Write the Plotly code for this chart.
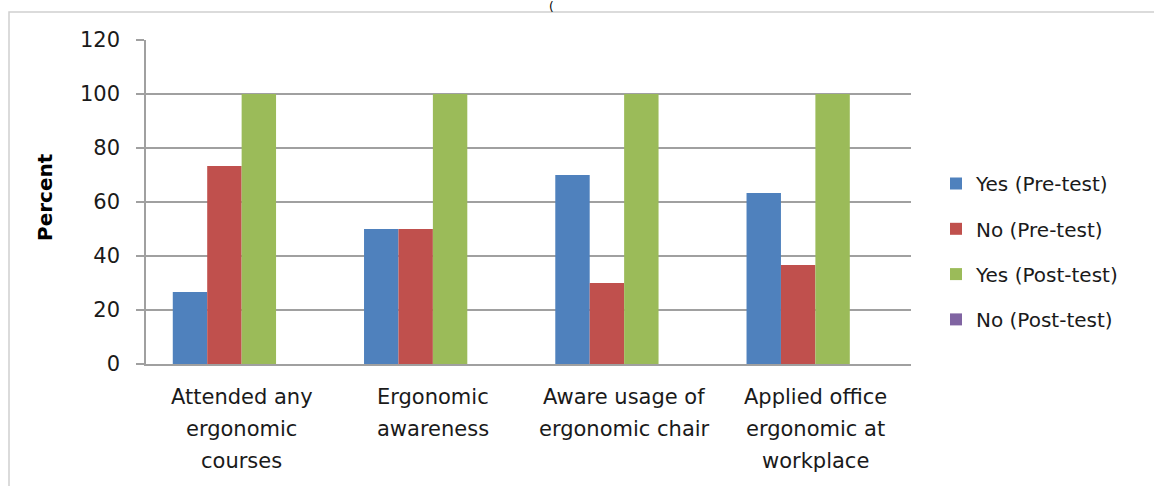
import plotly.graph_objects as go

category_lines = [
    ["Attended any", "ergonomic", "courses"],
    ["Ergonomic", "awareness"],
    ["Aware usage of", "ergonomic chair"],
    ["Applied office", "ergonomic at", "workplace"],
]
categories = [" ".join(l) for l in category_lines]

series_names = ["Yes (Pre-test)", "No (Pre-test)", "Yes (Post-test)", "No (Post-test)"]
yes_pre = [26.7, 50, 70, 63.3]
no_pre = [73.3, 50, 30, 36.7]
yes_post = [100, 100, 100, 100]
no_post = [0, 0, 0, 0]
series_values = [yes_pre, no_pre, yes_post, no_post]
colors = ["#4F81BD", "#C0504D", "#9BBB59", "#8064A2"]

y_ticks = [0, 20, 40, 60, 80, 100, 120]

FONT = "DejaVu Sans"
W, H = 1154, 486
REF_L, REF_R, REF_T, REF_B = 146, 911, 40, 364
L, T = REF_L, REF_T
R = W - REF_R
B = H - REF_B
pw, ph = W - L - R, H - T - B

def px_x(px):
    return (px - REF_L) / pw

def px_y(py):
    return (REF_B - py) / ph

fig = go.Figure()
for i, (name, vals, c) in enumerate(zip(series_names, series_values, colors)):
    fig.add_trace(go.Bar(
        x=categories, y=vals, name=name, marker_color=c,
        marker_line_width=0, legendgroup=f"g{i}",
    ))

annotations = []
line_px = [397, 429, 461]
for cat, lines in zip(categories, category_lines):
    for j, ln in enumerate(lines):
        annotations.append(dict(
            x=cat, xref="x", y=px_y(line_px[j]), yref="paper",
            text=ln, showarrow=False, xanchor="center", yanchor="middle",
            font=dict(family=FONT, size=21, color="#1a1a1a"),
        ))

annotations.append(dict(
    x=px_x(45), xref="paper", y=px_y(197), yref="paper",
    text="<b>Percent</b>", textangle=-90, showarrow=False,
    xanchor="center", yanchor="middle",
    font=dict(family=FONT, size=20, color="#000000"),
))
annotations.append(dict(
    x=px_x(551), xref="paper", y=px_y(7), yref="paper",
    text="(", showarrow=False, xanchor="center", yanchor="middle",
    font=dict(family=FONT, size=12, color="#000000"),
))

fig.update_layout(
    width=W, height=H,
    margin=dict(l=L, r=R, t=T, b=B, autoexpand=False),
    paper_bgcolor="white", plot_bgcolor="white",
    barmode="group", bargap=0.28, bargroupgap=0,
    font=dict(family=FONT, size=21, color="#1a1a1a"),
    legend=dict(
        x=px_x(936), xanchor="left", y=px_y(164), yanchor="top",
        traceorder="grouped", tracegroupgap=16.3,
        font=dict(family=FONT, size=20, color="#1a1a1a"),
        bgcolor="rgba(0,0,0,0)",
    ),
    annotations=annotations,
    shapes=[dict(
        type="rect", xref="paper", yref="paper",
        x0=px_x(9), x1=px_x(1170), y0=px_y(500), y1=px_y(12),
        line=dict(color="#d0d0d0", width=1.5), fillcolor="rgba(0,0,0,0)",
        layer="below",
    )],
)
fig.update_xaxes(
    showticklabels=False, showline=True, linecolor="#a0a0a0", linewidth=1.5,
    showgrid=False, ticks="",
)
fig.update_yaxes(
    range=[0, 120], tickvals=y_ticks, ticktext=[str(v) for v in y_ticks],
    showline=True, linecolor="#a0a0a0", linewidth=1.5,
    showgrid=True, gridcolor="#a0a0a0", gridwidth=1.5,
    ticks="outside", ticklen=8, tickcolor="#a0a0a0", tickwidth=1.5,
    ticklabelstandoff=12, zeroline=False,
    tickfont=dict(family=FONT, size=21, color="#1a1a1a"),
)

fig.write_html(
    "out.html",
    config={"displayModeBar": False},
    post_script="document.body.style.margin='0';document.body.style.overflow='hidden';",
)
